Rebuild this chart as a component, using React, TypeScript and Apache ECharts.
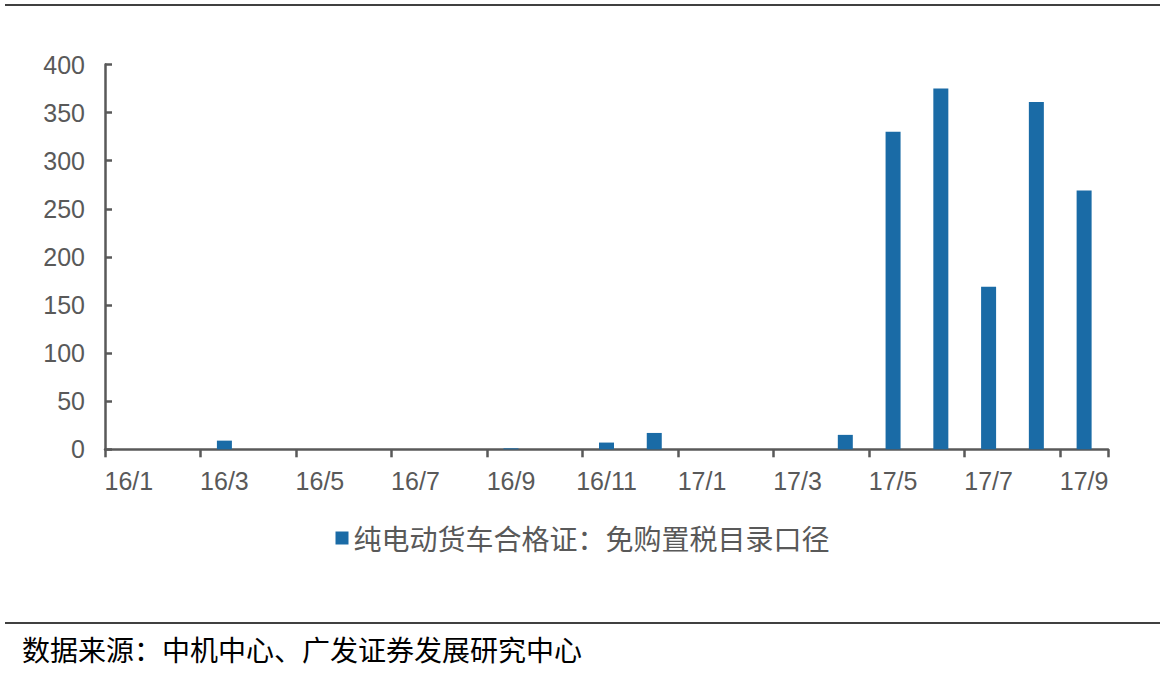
import React, { useEffect, useRef } from "react";
import * as echarts from "echarts";

const categories = [
  "16/1", "16/2", "16/3", "16/4", "16/5", "16/6", "16/7", "16/8", "16/9", "16/10", "16/11", "16/12",
  "17/1", "17/2", "17/3", "17/4", "17/5", "17/6", "17/7", "17/8", "17/9",
];
const values = [0, 0, 9, 0, 0, 0, 0, 0, 1, 0, 7, 17, 0, 0, 0, 15, 330, 375, 169, 361, 269];
const seriesName = "纯电动货车合格证：免购置税目录口径";
const sourceText = "数据来源：中机中心、广发证券发展研究中心";

const AXIS = "#595959";
const BAR = "#1a6ba6";
const NUM_FONT = "'Liberation Sans', Arial, sans-serif";
const CJK_FONT = "'Noto Sans CJK SC', sans-serif";

export default function App() {
  const ref = useRef<HTMLDivElement>(null);
  useEffect(() => {
    document.body.style.margin = "0";
    const chart = echarts.init(ref.current!, null, { renderer: "svg" });
    chart.setOption({
      animation: false,
      backgroundColor: "#ffffff",
      grid: { left: 105, right: 57, top: 64.5, bottom: 234.7, containLabel: false },
      legend: {
        show: true,
        bottom: 127,
        left: "center",
        itemWidth: 13,
        itemHeight: 13,
        itemGap: 10,
        icon: "rect",
        textStyle: { fontSize: 28, color: AXIS, fontFamily: CJK_FONT },
        data: [seriesName],
      },
      xAxis: {
        type: "category",
        data: categories,
        boundaryGap: true,
        axisLine: { show: true, lineStyle: { color: AXIS, width: 2.5 } },
        axisTick: { show: true, interval: 1, length: 8, inside: false, lineStyle: { color: AXIS, width: 2.5 } },
        axisLabel: { interval: 1, fontSize: 25, color: AXIS, fontFamily: NUM_FONT, margin: 19 },
        splitLine: { show: false },
      },
      yAxis: {
        type: "value",
        min: 0,
        max: 400,
        interval: 50,
        axisLine: { show: true, lineStyle: { color: AXIS, width: 2.5 } },
        axisTick: { show: true, inside: true, length: 7, lineStyle: { color: AXIS, width: 2.5 } },
        axisLabel: { fontSize: 25, color: AXIS, fontFamily: NUM_FONT, margin: 20 },
        splitLine: { show: false },
      },
      series: [
        {
          name: seriesName,
          type: "bar",
          data: values,
          barWidth: 15,
          itemStyle: { color: BAR },
        },
      ],
      graphic: [
        { type: "line", shape: { x1: 5, y1: 5, x2: 1160, y2: 5 }, style: { stroke: "#000", lineWidth: 1.5 } },
        { type: "line", shape: { x1: 5, y1: 623, x2: 1160, y2: 623 }, style: { stroke: "#000", lineWidth: 1.5 } },
        {
          type: "text",
          x: 22,
          y: 649,
          style: {
            text: sourceText,
            fontSize: 28,
            fontFamily: CJK_FONT,
            fill: "#000",
            verticalAlign: "middle",
            align: "left",
          },
        },
      ],
    });
    return () => chart.dispose();
  }, []);
  return (
    <div
      ref={ref}
      style={{ position: "absolute", left: 0, top: 0, width: 1165, height: 684, background: "#fff" }}
    />
  );
}
